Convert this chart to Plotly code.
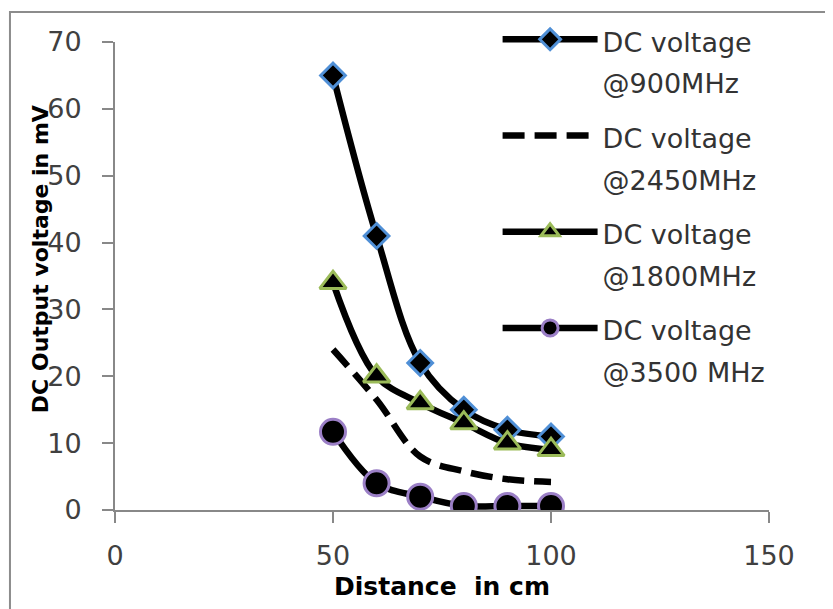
import plotly.graph_objects as go

distance = [50, 60, 70, 80, 90, 100]
v900 = [65, 41, 22, 15, 12, 11]
v2450 = [24, 16.5, 8, 5.8, 4.6, 4.2]
v1800 = [34, 20, 16, 13, 10, 9]
v3500 = [11.7, 4, 2, 0.6, 0.6, 0.6]

names = ["DC voltage<br>@900MHz", "DC voltage<br>@2450MHz",
         "DC voltage<br>@1800MHz", "DC voltage<br>@3500 MHz"]

FONT = "DejaVu Sans"
LEG_INNER = 27

def lab(s):
    parts = s.split("<br>")
    return "<br>".join("<span style='font-size:%dpx'>%s</span>" % (LEG_INNER, p) for p in parts)

fig = go.Figure()
line_kw = dict(color="black", width=6.5, shape="spline", smoothing=1)

fig.add_trace(go.Scatter(x=distance, y=v900, name=lab(names[0]), mode="lines+markers",
                         legendgroup="a", line=line_kw,
                         marker=dict(symbol="diamond", size=19, color="black",
                                     line=dict(color="#4f8fd6", width=3))))
fig.add_trace(go.Scatter(x=distance, y=v2450, name=lab(names[1]), mode="lines",
                         legendgroup="b", line=dict(line_kw, dash="22px,10px")))
fig.add_trace(go.Scatter(x=distance, y=v1800, name=lab(names[2]), mode="lines+markers",
                         legendgroup="c", line=line_kw,
                         marker=dict(symbol="triangle-up", size=23, color="black",
                                     line=dict(color="#9bbb59", width=3))))
fig.add_trace(go.Scatter(x=distance, y=v3500, name=lab(names[3]), mode="lines+markers",
                         legendgroup="d", line=line_kw,
                         marker=dict(symbol="circle", size=25, color="black",
                                     line=dict(color="#9b7fc6", width=3))))

axis_common = dict(showline=True, linecolor="#888888", linewidth=2,
                   ticks="outside", ticklen=11, tickwidth=2, tickcolor="#888888",
                   showgrid=False, zeroline=False,
                   tickfont=dict(family=FONT, size=27, color="#404040"))

fig.update_xaxes(range=[0, 150], dtick=50, tick0=0, ticklabelstandoff=10, **axis_common)
fig.update_yaxes(range=[0, 70], dtick=10, tick0=0, ticklabelstandoff=15, **axis_common)

fig.update_layout(
    width=825, height=601,
    margin=dict(l=107, r=64, t=34, b=99, autoexpand=False),
    plot_bgcolor="white", paper_bgcolor="white",
    showlegend=True,
    legend=dict(x=0.585, y=1.064, xanchor="left", yanchor="top",
                font=dict(family=FONT, size=32, color="#333333"),
                bgcolor="rgba(0,0,0,0)", valign="top",
                itemwidth=95, tracegroupgap=10, traceorder="grouped",
                maxheight=600),
    annotations=[
        dict(text="<b>DC Output voltage in mV</b>", xref="paper", yref="paper",
             x=-0.1147, y=0.536, xanchor="center", yanchor="middle", textangle=-90,
             showarrow=False, font=dict(family=FONT, size=22, color="black")),
        dict(text="<b>Distance  in cm</b>", xref="paper", yref="paper",
             x=0.5, y=-0.164, xanchor="center", yanchor="middle",
             showarrow=False, font=dict(family=FONT, size=25, color="black")),
    ],
    shapes=[
        dict(type="rect", xref="paper", yref="paper", x0=-0.1606, x1=1.3,
             y0=-0.4, y1=1.0641, line=dict(color="#8c8c8c", width=2), layer="below"),
    ],
)

fig.write_html("out.html")
